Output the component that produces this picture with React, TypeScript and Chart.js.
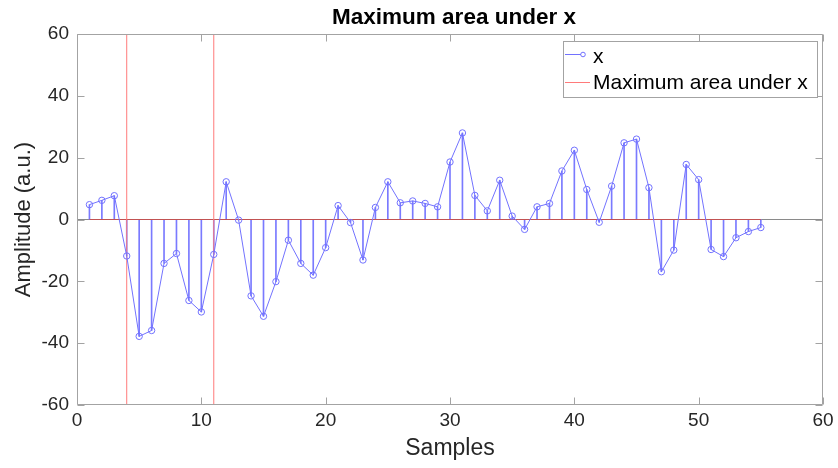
import React, { useEffect, useRef } from "react";
import { Chart, registerables } from "chart.js";

Chart.register(...registerables);

// ---- data ----
const SAMPLES = [
  1, 2, 3, 4, 5, 6, 7, 8, 9, 10,
  11, 12, 13, 14, 15, 16, 17, 18, 19, 20,
  21, 22, 23, 24, 25, 26, 27, 28, 29, 30,
  31, 32, 33, 34, 35, 36, 37, 38, 39, 40,
  41, 42, 43, 44, 45, 46, 47, 48, 49, 50,
  51, 52, 53, 54, 55,
];
const AMPLITUDES = [
  4.8, 6.2, 7.7, -11.8, -37.8, -35.9, -14.2, -11.0, -26.2, -29.9,
  -11.3, 12.2, -0.2, -24.7, -31.3, -20.1, -6.7, -14.2, -18.0, -9.1,
  4.5, -1.0, -13.1, 3.9, 12.2, 5.4, 6.0, 5.2, 4.1, 18.6,
  28.0, 7.8, 2.8, 12.7, 1.1, -3.2, 4.1, 5.2, 15.7, 22.4,
  9.7, -0.9, 10.8, 24.8, 26.0, 10.3, -16.9, -9.9, 17.8, 12.9,
  -9.7, -12.0, -5.9, -3.9, -2.6,
];
const REGION_BOUNDS = [4, 11];
const X_TICKS = [0, 10, 20, 30, 40, 50, 60];
const Y_TICKS = [-60, -40, -20, 0, 20, 40, 60];
const X_RANGE = [0, 60];
const Y_RANGE = [-60, 60];
const TITLE = "Maximum area under x";
const X_LABEL = "Samples";
const Y_LABEL = "Amplitude (a.u.)";
const LEGEND_LABELS = ["x", "Maximum area under x"];

const FONT = '"Liberation Sans", Arial, Helvetica, sans-serif';
const BLUE_LINE = "#7272ff";
const BLUE_STEM = "#7a7aff";
const RED = "#ff7a7a";
const BASE_RED = "#c25252";
const AXIS_GRAY = "#a3a3a3";
const TEXT = "#262626";

const decorPlugin = {
  id: "decor",
  afterDatasetsDraw(chart: any) {
    const { ctx, chartArea: a, scales } = chart;
    const xs = scales.x;
    const ys = scales.y;
    ctx.save();
    ctx.strokeStyle = AXIS_GRAY;
    ctx.lineWidth = 1;
    ctx.beginPath();
    const L = Math.round(a.left) + 0.5;
    const R = Math.round(a.right) - 0.5;
    const T = Math.round(a.top) + 0.5;
    const B = Math.round(a.bottom) - 0.5;
    ctx.moveTo(L, T);
    ctx.lineTo(R, T);
    ctx.lineTo(R, B);
    ctx.lineTo(L, B);
    ctx.closePath();
    const tl = 7;
    X_TICKS.forEach((v) => {
      const px = Math.round(xs.getPixelForValue(v)) + 0.5;
      ctx.moveTo(px, B);
      ctx.lineTo(px, B - tl);
      ctx.moveTo(px, T);
      ctx.lineTo(px, T + tl);
    });
    Y_TICKS.forEach((v) => {
      const py = Math.round(ys.getPixelForValue(v)) + 0.5;
      ctx.moveTo(L, py);
      ctx.lineTo(L + tl, py);
      ctx.moveTo(R, py);
      ctx.lineTo(R - tl, py);
    });
    ctx.stroke();
    ctx.restore();
  },
  afterDraw(chart: any) {
    const { ctx, chartArea: a } = chart;
    ctx.save();
    ctx.fillStyle = "#000";
    ctx.textAlign = "center";
    ctx.textBaseline = "alphabetic";
    ctx.font = `bold 22.5px ${FONT}`;
    ctx.fillText(TITLE, (a.left + a.right) / 2 + 4, 24);

    ctx.fillStyle = TEXT;
    ctx.font = `23px ${FONT}`;
    ctx.fillText(X_LABEL, (a.left + a.right) / 2, 455);

    ctx.save();
    ctx.translate(24, (a.top + a.bottom) / 2);
    ctx.rotate(-Math.PI / 2);
    ctx.textBaseline = "middle";
    ctx.font = `22px ${FONT}`;
    ctx.fillText(Y_LABEL, 0, 0);
    ctx.restore();

    // legend
    const bx = 563.5, by = 41.5, bw = 254, bh = 56;
    ctx.fillStyle = "#fff";
    ctx.fillRect(bx, by, bw, bh);
    ctx.strokeStyle = AXIS_GRAY;
    ctx.lineWidth = 1;
    ctx.strokeRect(bx, by, bw, bh);

    ctx.strokeStyle = BLUE_LINE;
    ctx.beginPath();
    ctx.moveTo(565, 54.5);
    ctx.lineTo(581, 54.5);
    ctx.stroke();
    ctx.beginPath();
    ctx.arc(583, 54.5, 2.3, 0, Math.PI * 2);
    ctx.stroke();

    ctx.strokeStyle = RED;
    ctx.beginPath();
    ctx.moveTo(565, 82.5);
    ctx.lineTo(590, 82.5);
    ctx.stroke();

    ctx.fillStyle = "#000";
    ctx.textAlign = "left";
    ctx.textBaseline = "alphabetic";
    ctx.font = `21px ${FONT}`;
    ctx.fillText(LEGEND_LABELS[0], 593, 63);
    ctx.fillText(LEGEND_LABELS[1], 593, 89);
    ctx.restore();
  },
};

export default function App() {
  const ref = useRef<HTMLCanvasElement | null>(null);

  useEffect(() => {
    if (!ref.current) return;
    const points = SAMPLES.map((s, i) => ({ x: s, y: AMPLITUDES[i] }));
    const first = SAMPLES[0];
    const last = SAMPLES[SAMPLES.length - 1];

    const datasets: any[] = [
      {
        type: "line",
        label: "zero",
        data: [
          { x: X_RANGE[0], y: 0 },
          { x: X_RANGE[1], y: 0 },
        ],
        borderColor: "#8a8a8a",
        borderWidth: 1,
        pointRadius: 0,
        order: 20,
      },
      {
        type: "bar",
        label: "stems",
        data: points,
        backgroundColor: BLUE_STEM,
        borderWidth: 0,
        barThickness: 1,
        order: 15,
      },
      {
        type: "line",
        label: "baseline",
        data: [
          { x: first, y: 0 },
          { x: last, y: 0 },
        ],
        borderColor: BASE_RED,
        borderWidth: 1,
        pointRadius: 0,
        order: 12,
      },
      ...REGION_BOUNDS.map((b) => ({
        type: "line",
        label: LEGEND_LABELS[1],
        data: [
          { x: b, y: Y_RANGE[0] },
          { x: b, y: Y_RANGE[1] },
        ],
        borderColor: RED,
        borderWidth: 1,
        pointRadius: 0,
        order: 8,
      })),
      {
        type: "line",
        label: LEGEND_LABELS[0],
        data: points,
        borderColor: BLUE_LINE,
        borderWidth: 1,
        pointRadius: 3.2,
        pointStyle: "circle",
        pointBorderColor: BLUE_LINE,
        pointBackgroundColor: "rgba(0,0,0,0)",
        pointBorderWidth: 1,
        tension: 0,
        order: 2,
      },
    ];

    const chart = new Chart(ref.current, {
      type: "line",
      data: { datasets },
      options: {
        animation: false,
        responsive: false,
        devicePixelRatio: 1,
        layout: { padding: { top: 34, right: 15, left: 0, bottom: 0 } },
        plugins: {
          legend: { display: false },
          title: { display: false },
          tooltip: { enabled: false },
        },
        scales: {
          x: {
            type: "linear",
            min: X_RANGE[0],
            max: X_RANGE[1],
            offset: false,
            afterBuildTicks(s: any) {
              s.ticks = X_TICKS.map((v) => ({ value: v }));
            },
            afterFit(s: any) {
              s.height = 63;
            },
            ticks: {
              font: { family: FONT, size: 19 },
              color: TEXT,
              padding: 4,
              maxRotation: 0,
              autoSkip: false,
            },
            grid: { display: false, drawTicks: false },
            border: { display: false },
          },
          y: {
            type: "linear",
            min: Y_RANGE[0],
            max: Y_RANGE[1],
            afterBuildTicks(s: any) {
              s.ticks = Y_TICKS.map((v) => ({ value: v }));
            },
            afterFit(s: any) {
              s.width = 77;
            },
            ticks: {
              font: { family: FONT, size: 19 },
              color: TEXT,
              padding: 8,
              autoSkip: false,
            },
            grid: { display: false, drawTicks: false },
            border: { display: false },
          },
        },
      } as any,
      plugins: [decorPlugin],
    });
    return () => chart.destroy();
  }, []);

  return (
    <div style={{ position: "absolute", left: 0, top: 0, width: 838, height: 468, background: "#fff" }}>
      <canvas ref={ref} width={838} height={468} style={{ display: "block" }} />
    </div>
  );
}
